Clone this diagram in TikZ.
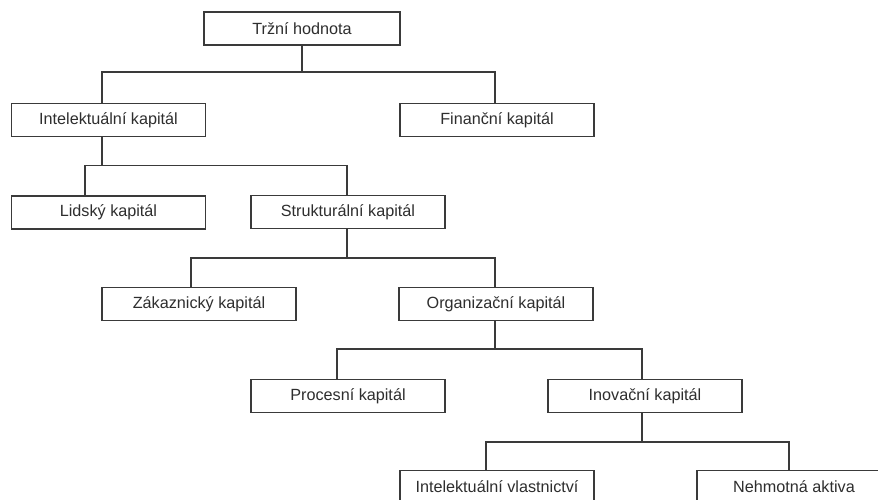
\documentclass[tikz,border=0pt]{standalone}
\usepackage{fontspec}
\setmainfont{Liberation Sans}
\definecolor{ln}{HTML}{3A3A3A}
\definecolor{tx}{HTML}{2E2E2E}
\begin{document}
\begin{tikzpicture}[x=1pt,y=-1pt,
  box/.style={draw=ln,line width=1.8pt,fill=white,minimum width=194pt,minimum height=33pt,inner sep=0pt,
    text=tx,font=\fontsize{16.2}{19}\selectfont},
  conn/.style={draw=ln,line width=1.8pt}]
\useasboundingbox (0,0) rectangle (878,499);
\node[box,minimum width=196pt] (T) at (302,28.5) {Tržní hodnota};
\node[box] (IK) at (108.5,120) {Intelektuální kapitál};
\node[box] (FK) at (497,120) {Finanční kapitál};
\node[box] (LK) at (108.5,212.5) {Lidský kapitál};
\node[box] (SK) at (348,212) {Strukturální kapitál};
\node[box] (ZK) at (199,304) {Zákaznický kapitál};
\node[box] (OK) at (496,304) {Organizační kapitál};
\node[box] (PK) at (348,396) {Procesní kapitál};
\node[box] (IN) at (645,396) {Inovační kapitál};
\node[box] (IV) at (497,487) {Intelektuální vlastnictví};
\node[box] (NA) at (794,487) {Nehmotná aktiva};
% level 1
\draw[conn] (T.south) -- ++(0,26) coordinate (b1);
\draw[conn] ([xshift=-6.2pt]IK.north) |- (b1) -| ([xshift=-2pt]FK.north);
% level 2
\draw[conn] ([xshift=-6.2pt]IK.south) -- ++(0,28) coordinate (b2);
\draw[conn] ([xshift=-23.5pt]LK.north) |- (b2) -| ([xshift=-1.3pt]SK.north);
% level 3
\draw[conn] ([xshift=-1.3pt]SK.south) -- ++(0,28.5) coordinate (b3);
\draw[conn] ([xshift=-8.3pt]ZK.north) |- (b3) -| ([xshift=-1pt]OK.north);
% level 4
\draw[conn] ([xshift=-1pt]OK.south) -- ++(0,27.5) coordinate (b4);
\draw[conn] ([xshift=-10.7pt]PK.north) |- (b4) -| ([xshift=-3pt]IN.north);
% level 5
\draw[conn] ([xshift=-3pt]IN.south) -- ++(0,28.5) coordinate (b5);
\draw[conn] ([xshift=-11.3pt]IV.north) |- (b5) -| ([xshift=-5pt]NA.north);
\end{tikzpicture}
\end{document}
